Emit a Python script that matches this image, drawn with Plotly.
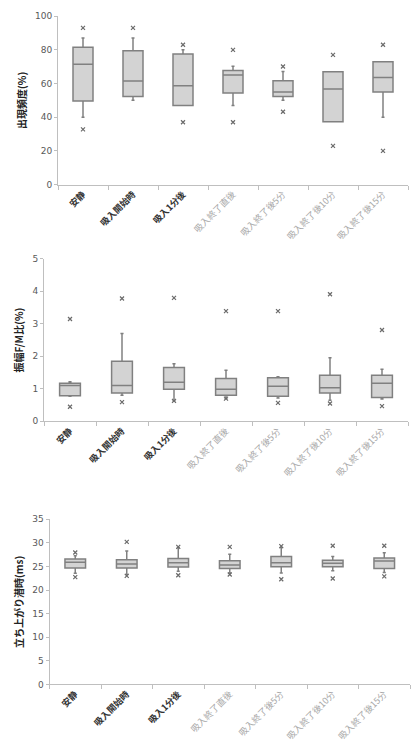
import plotly.graph_objects as go

categories = ["安静", "吸入開始時", "吸入1分後", "吸入終了直後", "吸入終了後5分", "吸入終了後10分", "吸入終了後15分"]

# Panel 1: 出現頻度(%)
p1_q1 = [49.6, 52.3, 46.9, 54.3, 52.3, 37.3, 54.9]
p1_med = [71.5, 61.5, 58.6, 65.0, 54.9, 56.8, 63.5]
p1_q3 = [81.6, 79.5, 77.5, 67.8, 61.7, 67.0, 72.9]
p1_lo = [40.0, 50.0, 46.9, 47.0, 50.0, 37.3, 40.0]
p1_hi = [87.0, 87.0, 80.0, 70.3, 67.2, 67.0, 72.9]
p1_out_max = [93.0, 93.0, 83.0, 80.0, 70.1, 77.0, 83.0]
p1_out_min = [32.8, None, 37.0, 37.0, 43.2, 23.0, 20.0]

# Panel 2: 振幅F/M比(%)
p2_q1 = [0.79, 0.87, 0.99, 0.80, 0.77, 0.87, 0.73]
p2_med = [1.10, 1.10, 1.20, 0.99, 1.08, 1.03, 1.17]
p2_q3 = [1.17, 1.85, 1.66, 1.32, 1.34, 1.42, 1.42]
p2_lo = [0.77, 0.80, 0.63, 0.70, 0.72, 0.65, 0.69]
p2_hi = [1.22, 2.70, 1.77, 1.57, 1.37, 1.96, 1.60]
p2_out_max = [3.15, 3.78, 3.80, 3.39, 3.39, 3.91, 2.81]
p2_out_min = [0.45, 0.59, 0.63, 0.70, 0.57, 0.55, 0.47]

# Panel 3: 立ち上がり潜時(ms)
p3_q1 = [24.7, 24.7, 24.9, 24.55, 24.96, 24.96, 24.55]
p3_med = [25.87, 25.52, 25.8, 25.3, 25.8, 25.7, 26.15]
p3_q3 = [26.57, 26.43, 26.7, 26.2, 27.1, 26.3, 26.8]
p3_lo = [23.57, 23.3, 24.0, 23.6, 23.6, 24.1, 23.7]
p3_hi = [27.27, 28.3, 29.0, 27.6, 29.0, 27.1, 27.9]
p3_out_max = [27.96, 30.2, 29.15, 29.15, 29.3, 29.4, 29.4]
p3_out_min = [22.73, 23.0, 23.15, 23.3, 22.3, 22.45, 22.9]

titles = ["出現頻度(%)", "振幅F/M比(%)", "立ち上がり潜時(ms)"]
yranges = [(0, 100, 20), (0, 5, 1), (0, 35, 5)]

panels = [
    (p1_q1, p1_med, p1_q3, p1_lo, p1_hi, p1_out_max, p1_out_min),
    (p2_q1, p2_med, p2_q3, p2_lo, p2_hi, p2_out_max, p2_out_min),
    (p3_q1, p3_med, p3_q3, p3_lo, p3_hi, p3_out_max, p3_out_min),
]

W, H = 418, 744
# pixel layout (left, right, top, bottom)
boxes_px = [(58, 408, 11.3, 182), (44, 408, 257.3, 422), (49.5, 410, 521.3, 688.7)]

FONT = "Noto Sans CJK JP"
ticktext = []
for i, c in enumerate(categories):
    if i < 3:
        ticktext.append(f"<b>{c}</b>")
    else:
        ticktext.append(f"<span style='color:#a8a8a8'>{c}</span>")

fig = go.Figure()
layout = dict(
    width=W, height=H, margin=dict(l=0, r=0, t=0, b=0),
    paper_bgcolor="white", plot_bgcolor="white",
    showlegend=False, font=dict(family=FONT, size=9, color="#595959"),
)

for k, (q1, med, q3, lo, hi, omax, omin) in enumerate(panels):
    xa = "x" if k == 0 else f"x{k+1}"
    ya = "y" if k == 0 else f"y{k+1}"
    fig.add_trace(go.Box(
        x=categories, q1=q1, median=med, q3=q3, lowerfence=lo, upperfence=hi,
        xaxis=xa, yaxis=ya, width=0.4, whiskerwidth=0.15,
        fillcolor="#d3d3d3", line=dict(color="#808080", width=1.5),
        boxpoints=False, hoverinfo="skip",
    ))
    ox, oy = [], []
    for c, a, b in zip(categories, omax, omin):
        if a is not None:
            ox.append(c); oy.append(a)
        if b is not None:
            ox.append(c); oy.append(b)
    fig.add_trace(go.Scatter(
        x=ox, y=oy, mode="markers", xaxis=xa, yaxis=ya,
        marker=dict(symbol="x-thin", size=4, line=dict(color="#6a6a6a", width=1.2)),
        hoverinfo="skip",
    ))
    l, r, t, b = boxes_px[k]
    ymin, ymax, dt = yranges[k]
    suffix = "" if k == 0 else str(k + 1)
    layout["xaxis" + suffix] = dict(
        domain=[l / W, r / W], anchor=ya, type="category",
        categoryorder="array", categoryarray=categories,
        tickvals=categories, ticktext=ticktext, tickangle=-45,
        tickfont=dict(family=FONT, size=9, color="#333333"),
        showline=True, linecolor="#bfbfbf", linewidth=1,
        ticks="outside", tickson="boundaries", ticklen=4, tickcolor="#bfbfbf",
        showgrid=False, zeroline=False, range=[-0.5, 6.5], fixedrange=True,
    )
    layout["yaxis" + suffix] = dict(
        domain=[1 - b / H, 1 - t / H], anchor=xa,
        range=[ymin, ymax], dtick=dt, tick0=0,
        showline=True, linecolor="#bfbfbf", linewidth=1,
        ticks="outside", ticklen=3, tickcolor="#bfbfbf",
        showgrid=False, zeroline=False,
        tickfont=dict(family="DejaVu Sans", size=9, color="#595959"),
        title=dict(text=f"<b>{titles[k]}</b>", font=dict(family=FONT, size=10, color="#222222"), standoff=6),
    )

fig.update_layout(**layout)
fig.write_html("out.html")
